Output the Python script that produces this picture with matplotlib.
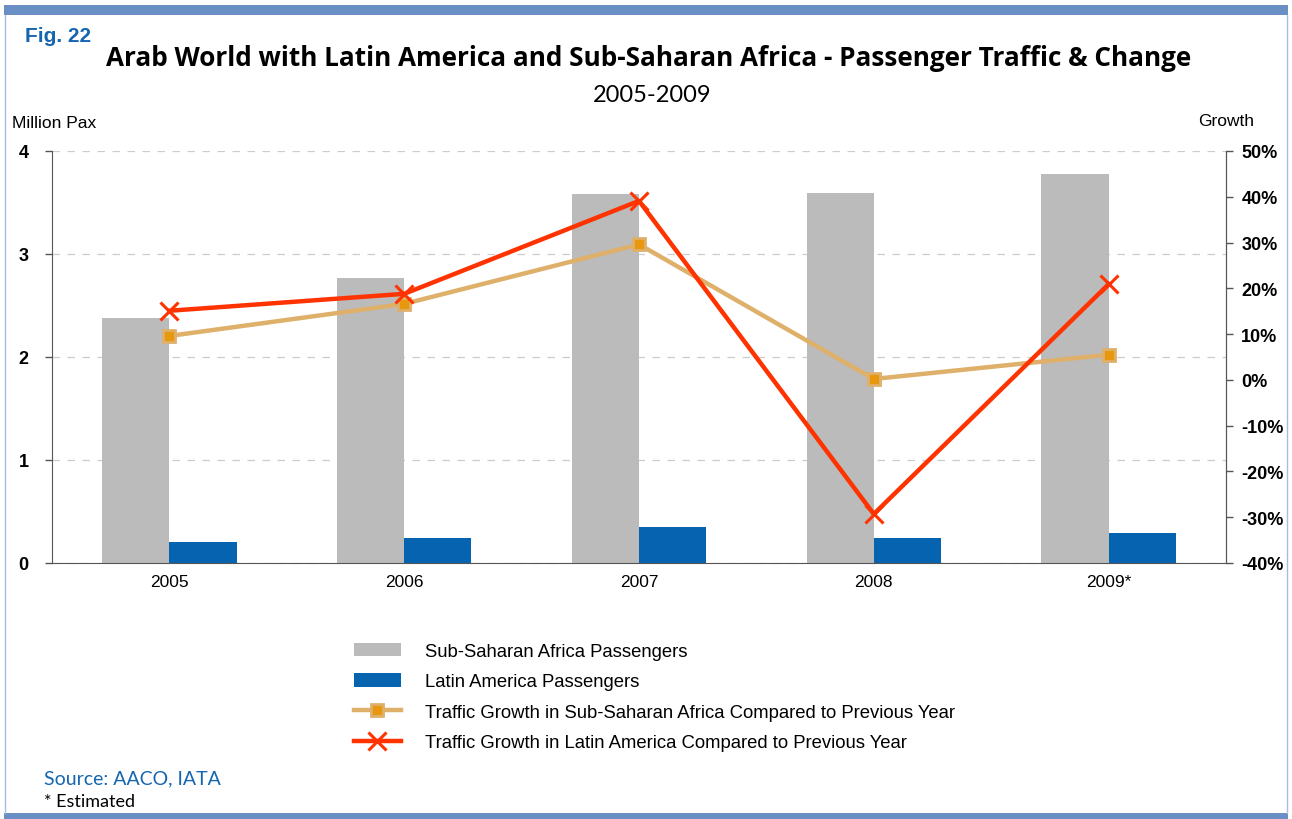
import matplotlib
matplotlib.use("Agg")
import matplotlib.pyplot as plt
from matplotlib.lines import Line2D
from matplotlib.patches import Rectangle
from matplotlib.ticker import FuncFormatter

years = ["2005", "2006", "2007", "2008", "2009*"]
ssa_pax = [2.38, 2.77, 3.58, 3.59, 3.78]
latam_pax = [0.20, 0.24, 0.35, 0.24, 0.29]
ssa_growth = [9.6, 16.6, 29.6, 0.2, 5.5]
latam_growth = [15.1, 18.8, 39.1, -29.3, 20.9]

W, H = 1292, 820
fig = plt.figure(figsize=(W / 100, H / 100), dpi=100)
fig.patch.set_facecolor("white")

# page frame
frame_blue = "#6A8FC4"
fig.add_artist(Rectangle((4 / W, 1 - 16 / H), (W - 8) / W, 10 / H,
                         transform=fig.transFigure, color=frame_blue, lw=0))
fig.add_artist(Rectangle((4 / W, 0), (W - 8) / W, 6 / H,
                         transform=fig.transFigure, color=frame_blue, lw=0))
for xe in (5, W - 5):
    fig.add_artist(Line2D([xe / W, xe / W], [6 / H, 1 - 16 / H],
                          transform=fig.transFigure, color="#A9BEDD", lw=1))

ax = fig.add_axes([52 / W, 1 - 564 / H, (1226 - 52) / W, (564 - 152) / H])
ax2 = ax.twinx()

x = list(range(len(years)))
bw = 0.286
ax.bar([i - bw / 2 for i in x], ssa_pax, width=bw, color="#BBBBBB",
       label="Sub-Saharan Africa Passengers", zorder=2)
ax.bar([i + bw / 2 for i in x], latam_pax, width=bw, color="#0563B0",
       label="Latin America Passengers", zorder=2)

ax.set_xlim(-0.5, len(years) - 0.5)
ax.set_ylim(0, 4)
ax.set_yticks([0, 1, 2, 3, 4])
ax.set_xticks(x)
ax.set_xticklabels(years, fontsize=12.5, family="Liberation Sans")
ax.tick_params(axis="x", length=0, pad=8)
ax.tick_params(axis="y", length=5, width=1, color="#555555", pad=12)
for lbl in ax.get_yticklabels():
    lbl.set_fontweight("bold")
    lbl.set_fontsize(13)
    lbl.set_family("Liberation Sans")
ax.yaxis.grid(True, linestyle=(0, (6, 6)), color="#CCCCCC", lw=0.9, zorder=0)
ax.set_axisbelow(True)

for a in (ax, ax2):
    a.spines["top"].set_visible(False)
    a.spines["left"].set_color("#555555")
    a.spines["right"].set_color("#555555")
    a.spines["bottom"].set_color("#555555")

(l1,) = ax2.plot(x, ssa_growth, color="#DEB06A", lw=3.2, marker="s",
                 markersize=9, markerfacecolor="#E8980F",
                 markeredgecolor="#DEB06A", markeredgewidth=2,
                 label="Traffic Growth in Sub-Saharan Africa Compared to Previous Year",
                 zorder=3)
(l2,) = ax2.plot(x, latam_growth, color="#FF3300", lw=3.2, marker="x",
                 markersize=13, markeredgewidth=2.2,
                 label="Traffic Growth in Latin America Compared to Previous Year",
                 zorder=4)
ax2.set_ylim(-40, 50)
ax2.set_yticks(range(-40, 51, 10))
ax2.yaxis.set_major_formatter(FuncFormatter(lambda v, p: f"{int(v)}%"))
ax2.tick_params(axis="y", length=5, width=1, color="#555555", pad=6)
for lbl in ax2.get_yticklabels():
    lbl.set_fontweight("bold")
    lbl.set_fontsize(13)
    lbl.set_family("Liberation Sans")
ax2.spines["left"].set_visible(False)
ax2.spines["bottom"].set_visible(False)

handles = [ax.containers[0], ax.containers[1], l1, l2]
leg = fig.legend(handles=handles, labels=[h.get_label() for h in handles],
                 loc="upper left", bbox_to_anchor=(337 / W, 1 - 627 / H),
                 frameon=False, handlelength=2.55, handleheight=0.75,
                 labelspacing=0.72, handletextpad=1.3,
                 prop={"family": "Liberation Sans", "size": 13.3})

fig.text(25 / W, 1 - 36 / H, "Fig. 22", color="#1565B0", fontsize=15,
         fontweight="bold", family="Liberation Sans", va="center")
fig.text(649 / W, 1 - 58 / H,
         "Arab World with Latin America and Sub-Saharan Africa - Passenger Traffic & Change",
         ha="center", va="center", fontsize=18.8, fontweight="bold",
         family="Open Sans")
fig.text(652 / W, 1 - 96 / H, "2005-2009", ha="center", va="center",
         fontsize=17, family="Lato")
fig.text(12 / W, 1 - 123 / H, "Million Pax", fontsize=12.5,
         family="Liberation Sans", va="center")
fig.text(1226 / W, 1 - 121 / H, "Growth", fontsize=12.5,
         family="Liberation Sans", va="center", ha="center")
fig.text(44 / W, 1 - 779 / H, "Source: AACO, IATA", color="#1565B0",
         fontsize=14, family="Lato", va="center")
fig.text(44 / W, 1 - 802 / H, "* Estimated", fontsize=13, family="Lato",
         va="center")

fig.savefig("out.png", dpi=100, facecolor="white")
